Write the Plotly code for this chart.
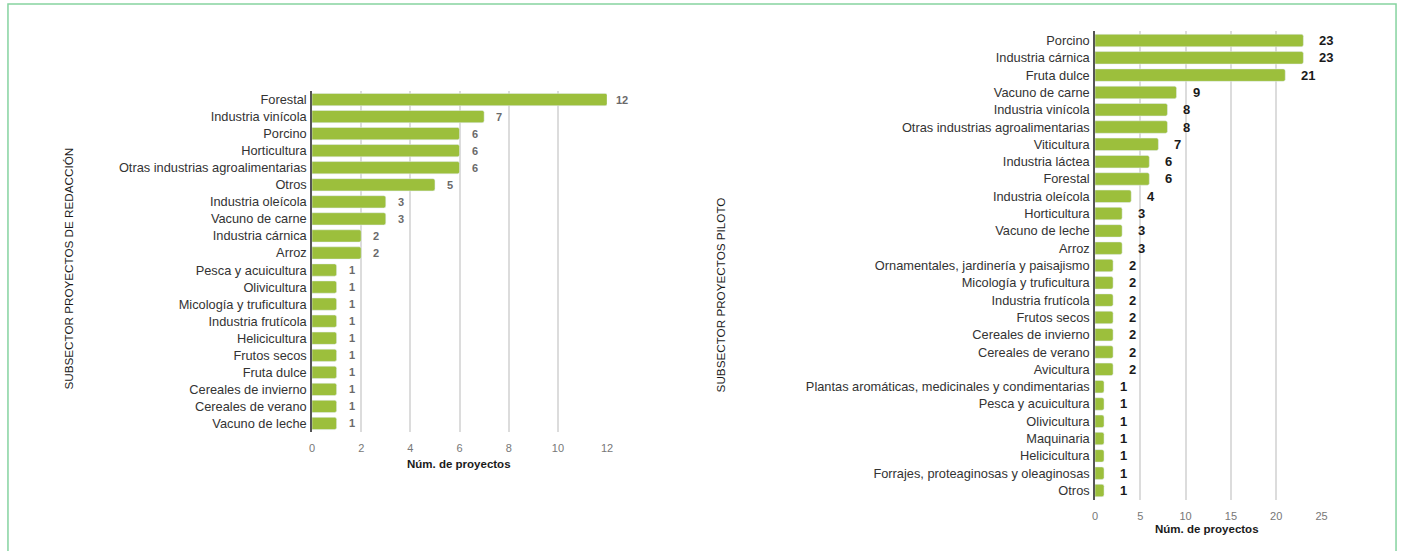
import plotly.graph_objects as go

W, H = 1407, 551

left_categories = ["Forestal", "Industria vinícola", "Porcino", "Horticultura",
                   "Otras industrias agroalimentarias", "Otros", "Industria oleícola",
                   "Vacuno de carne", "Industria cárnica", "Arroz", "Pesca y acuicultura",
                   "Olivicultura", "Micología y truficultura", "Industria frutícola",
                   "Helicicultura", "Frutos secos", "Fruta dulce", "Cereales de invierno",
                   "Cereales de verano", "Vacuno de leche"]
left_values = [12, 7, 6, 6, 6, 5, 3, 3, 2, 2, 1, 1, 1, 1, 1, 1, 1, 1, 1, 1]
left_ticks = [0, 2, 4, 6, 8, 10, 12]

right_categories = ["Porcino", "Industria cárnica", "Fruta dulce", "Vacuno de carne",
                    "Industria vinícola", "Otras industrias agroalimentarias", "Viticultura",
                    "Industria láctea", "Forestal", "Industria oleícola", "Horticultura",
                    "Vacuno de leche", "Arroz", "Ornamentales, jardinería y paisajismo",
                    "Micología y truficultura", "Industria frutícola", "Frutos secos",
                    "Cereales de invierno", "Cereales de verano", "Avicultura",
                    "Plantas aromáticas, medicinales y condimentarias", "Pesca y acuicultura",
                    "Olivicultura", "Maquinaria", "Helicicultura",
                    "Forrajes, proteaginosas y oleaginosas", "Otros"]
right_values = [23, 23, 21, 9, 8, 8, 7, 6, 6, 4, 3, 3, 3, 2, 2, 2, 2, 2, 2, 2,
                1, 1, 1, 1, 1, 1, 1]
right_ticks = [0, 5, 10, 15, 20, 25]

BAR = "#9cbf3c"
FONT = "Liberation Sans"


def px_x(p):
    return p / W


def px_y(p):
    return 1 - p / H


fig = go.Figure()
fig.add_trace(go.Bar(x=left_values, y=left_categories, orientation="h",
                     marker=dict(color=BAR, cornerradius=2), xaxis="x", yaxis="y",
                     hoverinfo="x+y"))
fig.add_trace(go.Bar(x=right_values, y=right_categories, orientation="h",
                     marker=dict(color=BAR, cornerradius=2), xaxis="x2", yaxis="y2",
                     hoverinfo="x+y"))

annotations = []
for c, v in zip(left_categories, left_values):
    annotations.append(dict(x=v, y=c, xref="x", yref="y", text="<b>%d</b>" % v,
                            showarrow=False, xanchor="center", yanchor="middle", xshift=15,
                            font=dict(family=FONT, size=11, color="#6a6a6a")))
for c, v in zip(right_categories, right_values):
    annotations.append(dict(x=v, y=c, xref="x2", yref="y2", text="<b>%d</b>" % v,
                            showarrow=False, xanchor="left", yanchor="middle", xshift=14,
                            font=dict(family=FONT, size=13, color="#1a1a1a")))

annotations += [
    dict(x=px_x(459), y=px_y(464), xref="paper", yref="paper",
         xanchor="center", yanchor="middle",
         text="<b>Núm. de proyectos</b>", showarrow=False,
         font=dict(family=FONT, size=11.5, color="#1a1a1a")),
    dict(x=px_x(1212), y=px_y(529), xref="paper", yref="paper",
         xanchor="center", yanchor="middle",
         text="<b>Núm. de proyectos</b>", showarrow=False,
         font=dict(family=FONT, size=11.5, color="#1a1a1a")),
    dict(x=px_x(65), y=px_y(269), xref="paper", yref="paper",
         xanchor="center", yanchor="middle",
         text="SUBSECTOR PROYECTOS DE REDACCIÓN", textangle=-90, showarrow=False,
         font=dict(family=FONT, size=11.7, color="#1a1a1a")),
    dict(x=px_x(722), y=px_y(295), xref="paper", yref="paper",
         xanchor="center", yanchor="middle",
         text="SUBSECTOR PROYECTOS PILOTO", textangle=-90, showarrow=False,
         font=dict(family=FONT, size=11.7, color="#1a1a1a")),
]

xcommon = dict(showgrid=True, gridcolor="#dcdcdc", gridwidth=1.5, zeroline=False,
               showline=False, ticks="", ticklabelstandoff=8,
               tickfont=dict(family=FONT, size=11, color="#777"),
               fixedrange=True)
ycommon = dict(showgrid=False, zeroline=False, showline=True, linecolor="#555", linewidth=1.5,
               ticks="", ticklabelstandoff=1, tickfont=dict(family=FONT, size=12.8, color="#333"),
               autorange="reversed", type="category", fixedrange=True)

fig.update_layout(
    width=W, height=H,
    margin=dict(l=0, r=0, t=0, b=0),
    paper_bgcolor="white", plot_bgcolor="white",
    showlegend=False, bargap=0.28,
    xaxis=dict(domain=[px_x(311), px_x(608)], range=[0, 12], tickvals=left_ticks,
               anchor="y", **xcommon),
    yaxis=dict(domain=[px_y(432), px_y(91)], anchor="x", **ycommon),
    xaxis2=dict(domain=[px_x(1099), px_x(1327)], range=[0, 25], tickvals=right_ticks,
                anchor="y2", **xcommon),
    yaxis2=dict(domain=[px_y(500), px_y(31)], anchor="x2", **ycommon),
    annotations=annotations,
    shapes=[dict(type="rect", xref="paper", yref="paper",
                 x0=px_x(5), x1=px_x(1402), y0=px_y(600), y1=px_y(4),
                 line=dict(color="#86d3a0", width=1.5))],
)

fig.write_html("out.html")
